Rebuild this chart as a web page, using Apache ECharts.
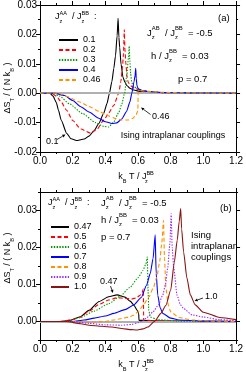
<!DOCTYPE html>
<html>
<head>
<meta charset="utf-8">
<script src="https://cdn.jsdelivr.net/npm/echarts@6.0.0/dist/echarts.min.js"></script>
<style>html,body{margin:0;padding:0;background:#fff;}#c{width:246px;height:372px;}</style>
</head>
<body>
<div id="c"></div>
<script>
// ---------- DATA ----------
const xTickLabels = ['0.0','0.2','0.4','0.6','0.8','1.0','1.2'];
const yTickLabelsA = ['-0.02','-0.01','0.00','0.01','0.02','0.03'];
const yTickLabelsB = ['0.00','0.01','0.02','0.03'];

const namesA = ['0.1','0.2','0.3','0.4','0.46'];
const namesB = ['0.47','0.5','0.6','0.7','0.8','0.9','1.0'];

const a01 = [[0,0],[0.06,0],[0.08,-0.001],[0.10,-0.0032],[0.113,-0.0058],[0.13,-0.0092],[0.163,-0.0136],[0.19,-0.0155],[0.229,-0.0161],[0.27,-0.0156],[0.30,-0.0146],[0.33,-0.0128],[0.36,-0.0103],[0.39,-0.0068],[0.41,-0.0035],[0.425,0],[0.44,0.004],[0.452,0.0085],[0.462,0.0127],[0.472,0.0195],[0.478,0.0255],[0.483,0.019],[0.488,0.0155],[0.496,0.0099],[0.508,0.0054],[0.52,0.0037],[0.532,0.0026],[0.55,0.0017],[0.572,0.0011],[0.62,0.0005],[0.7,0.0002],[0.85,0.0001],[1.2,0]];
const a02 = [[0,0],[0.07,0],[0.10,-0.001],[0.13,-0.003],[0.163,-0.0058],[0.20,-0.0093],[0.25,-0.0122],[0.31,-0.0136],[0.35,-0.0122],[0.392,-0.009],[0.42,-0.0068],[0.452,-0.0041],[0.482,0],[0.495,0.004],[0.505,0.009],[0.511,0.0135],[0.516,0.0216],[0.52,0.015],[0.525,0.0105],[0.532,0.006],[0.54,0.0037],[0.555,0.0025],[0.58,0.0016],[0.62,0.0009],[0.7,0.0003],[0.85,0.0001],[1.2,0]];
const a03 = [[0,0],[0.08,0],[0.12,-0.001],[0.18,-0.0036],[0.26,-0.0069],[0.34,-0.0100],[0.39,-0.0113],[0.42,-0.0115],[0.45,-0.0099],[0.482,-0.0066],[0.50,-0.0038],[0.518,0],[0.532,0.0065],[0.542,0.0125],[0.546,0.016],[0.55,0.011],[0.555,0.0065],[0.562,0.0035],[0.575,0.0022],[0.6,0.0014],[0.65,0.0007],[0.75,0.0002],[0.9,0.0001],[1.2,0]];
const a04 = [[0,0],[0.09,0],[0.15,-0.0008],[0.20,-0.0025],[0.25,-0.0046],[0.30,-0.0064],[0.36,-0.0085],[0.40,-0.0097],[0.44,-0.0103],[0.47,-0.0101],[0.50,-0.0088],[0.53,-0.0062],[0.55,-0.003],[0.562,0],[0.575,0.0038],[0.582,0.006],[0.586,0.0085],[0.589,0.005],[0.594,0.0025],[0.6,0.0016],[0.62,0.001],[0.66,0.0006],[0.75,0.0002],[0.9,0.0001],[1.2,0]];
const a046 = [[0,0],[0.11,0],[0.17,-0.0012],[0.243,-0.003],[0.30,-0.0045],[0.362,-0.0062],[0.42,-0.0077],[0.46,-0.0086],[0.50,-0.0091],[0.54,-0.0091],[0.57,-0.0085],[0.588,-0.0073],[0.599,-0.006],[0.601,0.0006],[0.62,0.0009],[0.66,0.0006],[0.75,0.0003],[0.9,0.0001],[1.2,0]];

const b047 = [[0,0],[0.12,0],[0.18,0.0003],[0.243,0.0012],[0.30,0.003],[0.362,0.0054],[0.42,0.0067],[0.472,0.0072],[0.52,0.0066],[0.552,0.0055],[0.575,0.0044],[0.595,0.003],[0.604,0.0022],[0.606,0.0003],[0.63,0.0003],[0.7,0.0002],[0.85,0.0001],[1.2,0]];
const b05 = [[0,0],[0.12,0],[0.2,0.0005],[0.25,0.0013],[0.30,0.0028],[0.36,0.0046],[0.42,0.0058],[0.47,0.0064],[0.52,0.0063],[0.56,0.0061],[0.59,0.0064],[0.61,0.007],[0.625,0.0078],[0.632,0.0088],[0.635,0.0002],[0.66,0.0003],[0.75,0.0002],[0.9,0.0001],[1.2,0]];
const b06 = [[0,0],[0.17,0],[0.25,0.0011],[0.33,0.0028],[0.42,0.0048],[0.49,0.0068],[0.55,0.0092],[0.60,0.0118],[0.63,0.0138],[0.648,0.0155],[0.657,0.0174],[0.661,0.009],[0.666,0.003],[0.675,0.0012],[0.72,0.0005],[0.85,0.0001],[1.2,0]];
const b07 = [[0,0],[0.2,0],[0.27,0.0004],[0.332,0.0009],[0.40,0.0015],[0.452,0.0022],[0.52,0.0032],[0.572,0.0044],[0.62,0.0065],[0.652,0.0098],[0.675,0.013],[0.692,0.017],[0.705,0.0234],[0.711,0.013],[0.721,0.0071],[0.735,0.0038],[0.751,0.0022],[0.80,0.0009],[0.85,0.0004],[1.0,0.0001],[1.2,0]];
const b08 = [[0,0],[0.2,0],[0.3,-0.0002],[0.4,0],[0.45,0.0004],[0.50,0.0008],[0.542,0.0012],[0.572,0.0017],[0.60,0.0026],[0.632,0.0044],[0.665,0.0065],[0.692,0.0089],[0.715,0.012],[0.732,0.016],[0.745,0.021],[0.756,0.0273],[0.762,0.017],[0.771,0.0089],[0.785,0.0045],[0.80,0.0026],[0.85,0.0011],[0.93,0.0004],[1.05,0.0001],[1.2,0]];
const b09 = [[0,0],[0.2,0],[0.3,-0.0005],[0.40,-0.0009],[0.50,-0.001],[0.56,-0.0008],[0.60,-0.0003],[0.62,0],[0.65,0.0009],[0.692,0.0026],[0.725,0.0045],[0.751,0.0071],[0.768,0.01],[0.781,0.0143],[0.795,0.021],[0.803,0.0291],[0.809,0.02],[0.819,0.0143],[0.839,0.0071],[0.86,0.0045],[0.879,0.0035],[0.93,0.0018],[1.0,0.0012],[1.1,0.0005],[1.2,0.0002]];
const b10 = [[0,0],[0.16,0],[0.25,-0.0006],[0.30,-0.001],[0.38,-0.0013],[0.44,-0.0015],[0.50,-0.0019],[0.56,-0.0022],[0.59,-0.0023],[0.63,-0.002],[0.66,-0.0015],[0.70,0],[0.74,0.0022],[0.771,0.0044],[0.80,0.0085],[0.822,0.016],[0.84,0.022],[0.852,0.027],[0.861,0.0305],[0.867,0.025],[0.879,0.0188],[0.899,0.0118],[0.92,0.0072],[0.95,0.0045],[1.0,0.0025],[1.1,0.0011],[1.2,0.0005]];

const dataA = [a01, a02, a03, a04, a046];
const dataB = [b047, b05, b06, b07, b08, b09, b10];

// ---------- STYLE ----------
const FONT = "'Liberation Sans', Arial, sans-serif";
const styleA = [
  {color:'#000000', type:'solid'},
  {color:'#ff0000', type:[4,2.5]},
  {color:'#009a00', type:[1.4,1.4]},
  {color:'#0000ff', type:'solid'},
  {color:'#ff9000', type:[4,2.5]}
];
const styleB = [
  {color:'#000000', type:'solid'},
  {color:'#ff0000', type:[4,2.5]},
  {color:'#009a00', type:[1.4,1.4]},
  {color:'#0000ff', type:'solid'},
  {color:'#ff9000', type:[4,2.5]},
  {color:'#9a2cff', type:[1.4,1.4]},
  {color:'#8b1212', type:'solid'}
];

const chart = echarts.init(document.getElementById('c'), null, {renderer:'canvas'});

const axLine = {color:'#000', width:1};
function xAx(grid, pos, labels) {
  return {
    type:'value', gridIndex:grid, position:pos, min:0, max:1.2, interval:0.2,
    axisLine:{show:true, onZero:false, lineStyle:axLine},
    axisTick:{show:true, inside:false, length:4, lineStyle:axLine},
    minorTick:{show:true, splitNumber:2, length:2, lineStyle:axLine},
    splitLine:{show:false}, minorSplitLine:{show:false},
    axisLabel:{show:labels, fontSize:10, fontFamily:FONT, color:'#000', margin:4,
      formatter:(v)=> xTickLabels[Math.round(v/0.2)] || ''}
  };
}
function yAxA(pos, labels) {
  return {
    type:'value', gridIndex:0, position:pos, min:-0.02, max:0.03, interval:0.01,
    axisLine:{show:true, onZero:false, lineStyle:axLine},
    axisTick:{show:true, inside:false, length:4, lineStyle:axLine},
    minorTick:{show:true, splitNumber:2, length:2, lineStyle:axLine},
    splitLine:{show:false}, minorSplitLine:{show:false},
    axisLabel:{show:labels, fontSize:10, fontFamily:FONT, color:'#000', margin:3,
      formatter:(v)=> yTickLabelsA[Math.round((v+0.02)/0.01)] || ''}
  };
}
const majorB = [0,0.01,0.02,0.03];
function yAxB(pos, labels) {
  return {
    type:'value', gridIndex:1, position:pos, min:-0.005, max:0.035, interval:0.005,
    axisLine:{show:true, onZero:false, lineStyle:axLine},
    axisTick:{show:true, inside:false, length:4, lineStyle:axLine, customValues:majorB},
    splitLine:{show:false},
    axisLabel:{show:labels, fontSize:10, fontFamily:FONT, color:'#000', margin:3, customValues:majorB,
      formatter:(v)=>{ const k=Math.round(v/0.01); return (Math.abs(v-k*0.01)<1e-6 && k>=0 && k<4) ? yTickLabelsB[k] : ''; }}
  };
}
function yAxBminor(pos) {
  return {
    type:'value', gridIndex:1, position:pos, min:-0.005, max:0.035, interval:0.005,
    axisLine:{show:false, onZero:false},
    axisTick:{show:true, inside:false, length:2, lineStyle:axLine},
    splitLine:{show:false}, axisLabel:{show:false}
  };
}

const series = [];
// grey zero reference line in each panel
[0,1].forEach(g => {
  series.push({
    type:'line', xAxisIndex: g===0?0:2, yAxisIndex: g===0?0:2, data:[], z:1, silent:true,
    markLine:{silent:true, symbol:['none','none'], label:{show:false},
      lineStyle:{color:'#b0b0b0', width:2, type:'solid'}, data:[{yAxis:0}], animation:false}
  });
});
function lineSeries(names, datas, styles, xi, yi) {
  names.forEach((n,i)=>{
    series.push({name:n, type:'line', xAxisIndex:xi, yAxisIndex:yi, data:datas[i],
      symbol:'none', showSymbol:false, smooth:0.2, smoothMonotone:'x', z:3+i,
      itemStyle:{color:styles[i].color},
      lineStyle:{color:styles[i].color, width:1.1, type:styles[i].type}});
  });
}
lineSeries(namesA, dataA, styleA, 0, 0);
lineSeries(namesB, dataB, styleB, 2, 2);

function rich(s) {
  const sm = Math.round(s*0.62*10)/10;
  return {
    n:{fontSize:s, fontFamily:FONT, lineHeight:s+5, fill:'#000'},
    sp:{fontSize:sm, fontFamily:FONT, lineHeight:sm+0.5, verticalAlign:'top', fill:'#000'},
    sb:{fontSize:sm, fontFamily:FONT, lineHeight:sm+0.5, verticalAlign:'bottom', fill:'#000'},
    sbz:{fontSize:sm, fontFamily:FONT, lineHeight:sm+0.5, verticalAlign:'bottom', width:0, fill:'#000'}
  };
}
function T(x, y, text, s, align, rot) {
  return {type:'text', x, y, rotation: rot||0, z:100,
    style:{text, rich:rich(s), fill:'#000', font: s+'px '+FONT, align: align||'left', verticalAlign:'middle'}};
}
function arrow(x1,y1,x2,y2) {
  const a = Math.atan2(y2-y1, x2-x1), L=3.2, W=1.5;
  const bx = x2 - L*Math.cos(a), by = y2 - L*Math.sin(a);
  return [
    {type:'line', z:100, shape:{x1,y1,x2:bx,y2:by}, style:{stroke:'#000', lineWidth:0.8, fill:null}},
    {type:'polygon', z:100, shape:{points:[[x2,y2],[bx - W*Math.sin(a), by + W*Math.cos(a)],[bx + W*Math.sin(a), by - W*Math.cos(a)]]}, style:{fill:'#000'}}
  ];
}

const yTitle = '{n|ΔS}{sb|T}{n| / ( N k}{sb|B}{n| )}';
const xTitle = '{n|k}{sb|B}{n| T / J}{sbz|z}{sp|BB}';
const legTitle = '{n|J}{sbz|z}{sp|AA}{n|  / J}{sbz|z}{sp|BB}{n|  :}';
const graphic = [
  T(8, 88, yTitle, 9, 'center', Math.PI/2),
  T(8, 258, yTitle, 9, 'center', Math.PI/2),
  T(136, 177, xTitle, 9, 'center'),
  T(136, 365, xTitle, 9, 'center'),
  T(55, 17, legTitle, 9, 'left'),
  T(48, 203, legTitle, 9, 'left'),
  T(218, 18, '{n|(a)}', 9.5, 'left'),
  T(147, 33, '{n|J}{sbz|z}{sp|AB}{n|  / J}{sbz|z}{sp|BB}{n|  = -0.5}', 9.5, 'left'),
  T(151, 56, '{n|h / J}{sbz|z}{sp|BB}{n|  = 0.03}', 9.5, 'left'),
  T(178, 79, '{n|p = 0.7}', 9.5, 'left'),
  T(173, 136, '{n|Ising intraplanar couplings}', 9, 'center'),
  T(46, 141.5, '{n|0.1}', 9, 'left'),
  T(152, 117, '{n|0.46}', 9, 'left'),
  T(220, 208, '{n|(b)}', 9.5, 'left'),
  T(101, 203, '{n|J}{sbz|z}{sp|AB}{n|  / J}{sbz|z}{sp|BB}{n|  = -0.5}', 9.5, 'left'),
  T(101, 220, '{n|h / J}{sbz|z}{sp|BB}{n|  = 0.03}', 9.5, 'left'),
  T(101, 237, '{n|p = 0.7}', 9.5, 'left'),
  T(191, 235, '{n|Ising}', 9.5, 'left'),
  T(191, 246, '{n|intraplanar}', 9.5, 'left'),
  T(191, 257, '{n|couplings}', 9.5, 'left'),
  T(100, 282, '{n|0.47}', 9, 'left'),
  T(205, 297, '{n|1.0}', 9, 'left'),
  ...arrow(57,139.5,65.5,134.5),
  ...arrow(150.5,114.5,141,107.5),
  ...arrow(110.5,286,113,293),
  ...arrow(203,298,194.5,301)
];

const legendCommon = {orient:'vertical', itemWidth:19, itemHeight:10, itemGap:0, selectedMode:false,
  itemStyle:{opacity:0}, padding:0,
  textStyle:{fontSize:9, fontFamily:FONT, color:'#000', lineHeight:10}};

chart.setOption({
  animation:false,
  backgroundColor:'#fff',
  grid:[{left:40, top:3, width:200, height:149}, {left:40, top:192, width:200, height:148}],
  xAxis:[xAx(0,'bottom',true), xAx(0,'top',false), xAx(1,'bottom',true), xAx(1,'top',false)],
  yAxis:[yAxA('left',true), yAxA('right',false), yAxB('left',true), yAxB('right',false), yAxBminor('left'), yAxBminor('right')],
  legend:[
    Object.assign({}, legendCommon, {left:58, top:35, data:namesA}),
    Object.assign({}, legendCommon, {left:50, top:222, data:namesB, itemWidth:18})
  ],
  graphic,
  series
});
</script>
</body>
</html>
